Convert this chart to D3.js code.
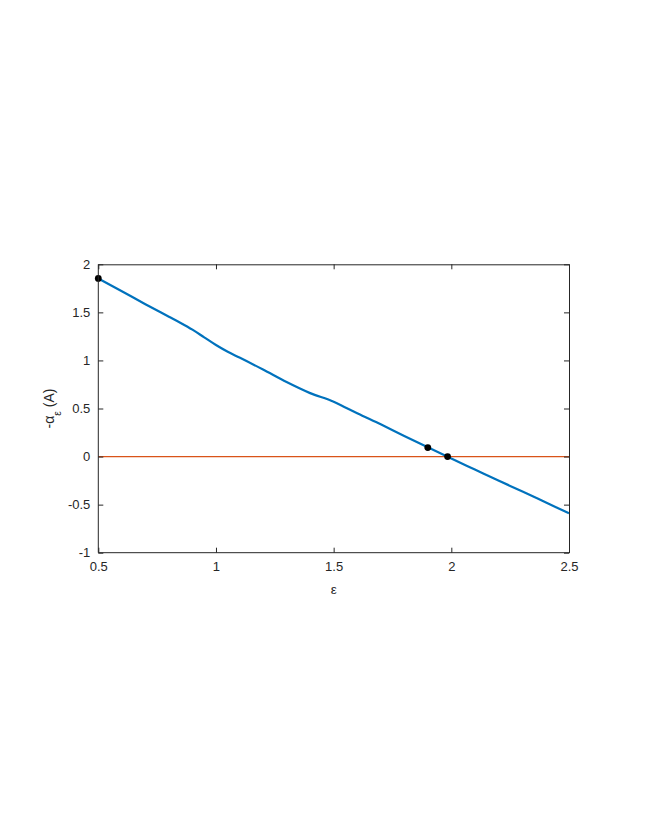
<!DOCTYPE html>
<html><head><meta charset="utf-8">
<script src="https://cdn.jsdelivr.net/npm/d3@7"></script>
<style>body{margin:0;background:#fff}svg text{font-family:"Liberation Sans",Arial,sans-serif}</style>
</head><body><svg id="c" width="646" height="836"></svg>
<script>
const epsX = [0.5,0.6,0.7,0.8,0.85,0.9,0.95,1.0,1.05,1.1,1.2,1.3,1.4,1.5,1.55,1.6,1.7,1.8,1.9,2.0,2.1,2.2,2.3,2.4,2.5];
const alphaY = [1.853,1.72,1.585,1.455,1.39,1.32,1.24,1.16,1.09,1.03,0.905,0.775,0.66,0.57,0.51,0.45,0.335,0.215,0.097,-0.02,-0.135,-0.25,-0.36,-0.475,-0.59];
const dotX = [0.5,1.9,1.984];
const dotY = [1.853,0.094,0];
const xTicks = [0.5,1,1.5,2,2.5];
const yTicks = [-1,-0.5,0,0.5,1,1.5,2];

const svg = d3.select("#c");
const L=98.3,R=569,T=264.3,B=552.7;
const x = d3.scaleLinear().domain([0.5,2.5]).range([L,R]);
const y = d3.scaleLinear().domain([-1,2]).range([B,T]);
const axc="#262626", fs=13;
const fmt = d => String(d);

// zero line
svg.append("line").attr("x1",x(0.5)).attr("x2",x(2.5)).attr("y1",y(0)).attr("y2",y(0))
  .attr("stroke","#D95319").attr("stroke-width",1.2);
// curve
svg.append("path").datum(epsX.map((v,i)=>[v,alphaY[i]]))
  .attr("d",d3.line().x(d=>x(d[0])).y(d=>y(d[1])).curve(d3.curveMonotoneX))
  .attr("fill","none").attr("stroke","#0072BD").attr("stroke-width",2.2);
svg.selectAll(".dot").data(dotX).enter().append("circle")
  .attr("cx",d=>x(d)).attr("cy",(d,i)=>y(dotY[i])).attr("r",3.4).attr("fill","#000");

// axes
const gb=svg.append("g").attr("transform",`translate(0,${B})`).call(d3.axisBottom(x).tickValues(xTicks).tickFormat(fmt).tickSizeInner(-5).tickSizeOuter(0).tickPadding(9));
const gt=svg.append("g").attr("transform",`translate(0,${T})`).call(d3.axisTop(x).tickValues(xTicks).tickFormat("").tickSizeInner(-5).tickSizeOuter(0));
const gl=svg.append("g").attr("transform",`translate(${L},0)`).call(d3.axisLeft(y).tickValues(yTicks).tickFormat(fmt).tickSizeInner(-5).tickSizeOuter(0).tickPadding(8));
const gr=svg.append("g").attr("transform",`translate(${R},0)`).call(d3.axisRight(y).tickValues(yTicks).tickFormat("").tickSizeInner(-5).tickSizeOuter(0));
[gb,gt,gl,gr].forEach(g=>{g.select(".domain").attr("stroke",axc).attr("stroke-width",1);
  g.selectAll(".tick line").attr("stroke",axc);
  g.selectAll("text").attr("fill",axc).style("font-size",fs+"px").style("font-family","'Liberation Sans',Arial,sans-serif");});
gb.select(".domain").attr("d",`M${L},0H${R}`);
gl.select(".domain").attr("d",`M0,${T}V${B}`);

// labels
svg.append("text").attr("x",(L+R)/2).attr("y",594).attr("text-anchor","middle").attr("fill",axc)
  .style("font-size","13.5px").text("ε");
const yl=svg.append("text").attr("transform",`translate(54,${(T+B)/2}) rotate(-90)`).attr("text-anchor","middle").attr("fill",axc).style("font-size","14px");
yl.append("tspan").text("-α");
yl.append("tspan").attr("dy",7).style("font-size","10px").text("ε");
yl.append("tspan").attr("dy",-7).text(" (A)");
</script></body></html>
